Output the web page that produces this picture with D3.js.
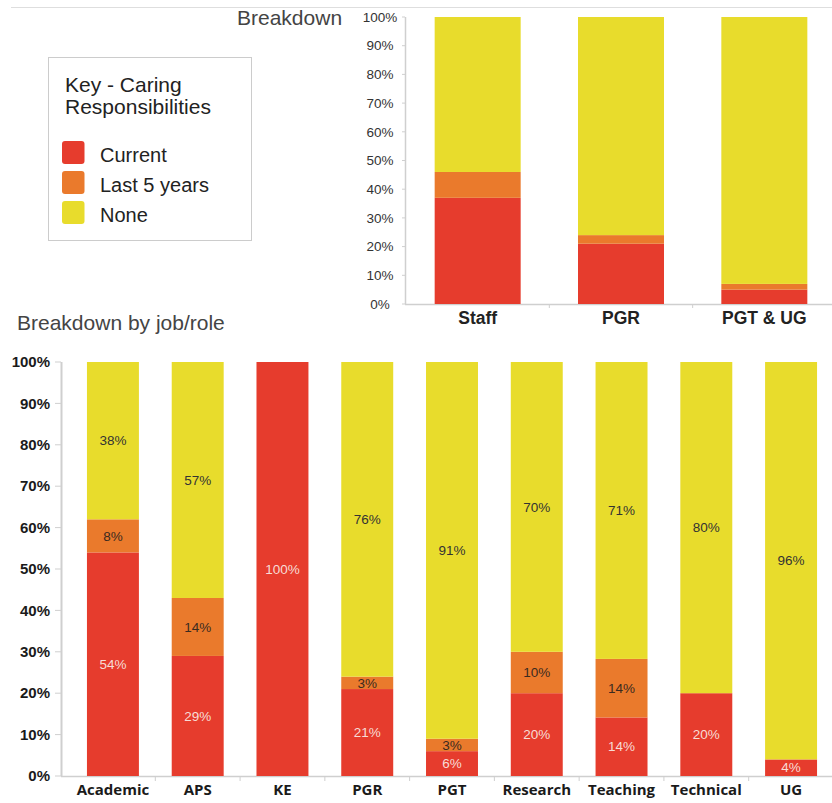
<!DOCTYPE html>
<html>
<head>
<meta charset="utf-8">
<script src="https://cdn.jsdelivr.net/npm/d3@7"></script>
<style>
  html, body { margin: 0; padding: 0; background: #fff; }
  svg { display: block; }
</style>
</head>
<body>
<svg id="chart" width="832" height="803"></svg>
<script>
// Series (stack order, bottom to top)
const seriesKeys = ["current", "last5", "none"];
const seriesNames = ["Current", "Last 5 years", "None"];
const seriesColors = ["#e63c2d", "#ea7a2c", "#e8dc2c"];

// Overall breakdown
const overviewGroups = ["Staff", "PGR", "PGT & UG"];
const overviewCurrent = [37, 21, 5];
const overviewLast5 = [9, 3, 2];
const overviewNone = [54, 76, 93];

// Breakdown by job/role
const roles = ["Academic", "APS", "KE", "PGR", "PGT", "Research", "Teaching", "Technical", "UG"];
const roleCurrent = [54, 29, 100, 21, 6, 20, 14, 20, 4];
const roleLast5 = [8, 14, 0, 3, 3, 10, 14, 0, 0];
const roleNone = [38, 57, 0, 76, 91, 70, 71, 80, 96];

// Y tick labels (percent)
const yTicks = [0, 10, 20, 30, 40, 50, 60, 70, 80, 90, 100];

const svg = d3.select("#chart");
const AX = "#cfcfcf";

function buildRows(groups, cur, last5, none) {
  return groups.map((g, i) => ({ group: g, current: cur[i], last5: last5[i], none: none[i] }));
}
const stacker = d3.stack().keys(seriesKeys).offset(d3.stackOffsetExpand);

// Separator rule across the top
svg.append("line")
  .attr("x1", 11).attr("x2", 832).attr("y1", 7.5).attr("y2", 7.5)
  .attr("stroke", "#dedede").attr("stroke-width", 1);

// ---------- Overview chart ----------
(function () {
  const rows = buildRows(overviewGroups, overviewCurrent, overviewLast5, overviewNone);
  const stacked = stacker(rows);
  const x = d3.scaleBand().domain(overviewGroups).range([406, 836]).paddingInner(0.4).paddingOuter(0.2);
  const y = d3.scaleLinear().domain([0, 1]).range([304, 17]);
  const g = svg.append("g");

  g.append("text").attr("x", 237).attr("y", 25)
    .attr("font-family", "Liberation Sans, Arial, sans-serif").attr("font-size", 21)
    .attr("fill", "#444").text("Breakdown");

  // axes lines
  g.append("line").attr("x1", 405.5).attr("x2", 405.5).attr("y1", 17).attr("y2", 304)
    .attr("stroke", AX).attr("stroke-width", 1.5);
  g.append("line").attr("x1", 405).attr("x2", 832).attr("y1", 304.5).attr("y2", 304.5)
    .attr("stroke", AX).attr("stroke-width", 1.5);

  const yt = g.selectAll(".yt").data(yTicks).join("g").attr("transform", d => `translate(0,${y(d / 100)})`);
  yt.append("line").attr("x1", 402).attr("x2", 405).attr("stroke", AX);
  yt.append("text").attr("x", 380).attr("dy", "0.35em").attr("text-anchor", "middle")
    .attr("font-family", "Liberation Sans, Arial, sans-serif").attr("font-size", 13.5)
    .attr("fill", "#333").text(d => d + "%");

  // category separators
  const step = x.step();
  g.selectAll(".sep").data(overviewGroups.slice(1)).join("line")
    .attr("x1", d => x(d) - step * x.paddingInner() / 2).attr("x2", d => x(d) - step * x.paddingInner() / 2)
    .attr("y1", 304).attr("y2", 308).attr("stroke", AX);

  stacked.forEach((s, si) => {
    g.append("g").selectAll("rect").data(s).join("rect")
      .attr("x", d => x(d.data.group)).attr("width", x.bandwidth())
      .attr("y", d => y(d[1])).attr("height", d => y(d[0]) - y(d[1]))
      .attr("fill", seriesColors[si]);
  });

  g.selectAll(".xl").data(overviewGroups).join("text")
    .attr("x", d => x(d) + x.bandwidth() / 2).attr("y", 324).attr("text-anchor", "middle")
    .attr("font-family", "Liberation Sans, Arial, sans-serif").attr("font-weight", "bold")
    .attr("font-size", 17.5).attr("fill", "#222").text(d => d);
})();

// ---------- Legend ----------
(function () {
  const g = svg.append("g");
  g.append("rect").attr("x", 48.5).attr("y", 57.5).attr("width", 203).attr("height", 183)
    .attr("fill", "#fff").attr("stroke", "#cccccc");
  const font = "Liberation Sans, Arial, sans-serif";
  g.append("text").attr("x", 65).attr("y", 92).attr("font-family", font).attr("font-size", 21)
    .attr("fill", "#222").text("Key - Caring");
  g.append("text").attr("x", 65).attr("y", 114).attr("font-family", font).attr("font-size", 21)
    .attr("fill", "#222").text("Responsibilities");
  const items = g.selectAll(".li").data(seriesNames).join("g")
    .attr("transform", (d, i) => `translate(0,${141 + i * 30})`);
  items.append("rect").attr("x", 62).attr("y", 0).attr("width", 22.5).attr("height", 23)
    .attr("rx", 3).attr("fill", (d, i) => seriesColors[i]);
  items.append("text").attr("x", 100).attr("y", 20.5).attr("font-family", font).attr("font-size", 20)
    .attr("fill", "#222").text(d => d);
})();

// ---------- Breakdown by job/role ----------
(function () {
  const rows = buildRows(roles, roleCurrent, roleLast5, roleNone);
  const stacked = stacker(rows);
  const x = d3.scaleBand().domain(roles).range([70, 834]).paddingInner(0.387).paddingOuter(0.2);
  const y = d3.scaleLinear().domain([0, 1]).range([776, 362]);
  const g = svg.append("g");

  g.append("text").attr("x", 17).attr("y", 330)
    .attr("font-family", "Liberation Sans, Arial, sans-serif").attr("font-size", 21)
    .attr("fill", "#444").text("Breakdown by job/role");

  g.append("line").attr("x1", 61.5).attr("x2", 61.5).attr("y1", 362).attr("y2", 776)
    .attr("stroke", AX).attr("stroke-width", 2);
  g.append("line").attr("x1", 61).attr("x2", 832).attr("y1", 776.5).attr("y2", 776.5)
    .attr("stroke", AX).attr("stroke-width", 1.5);

  const yt = g.selectAll(".yt").data(yTicks).join("g").attr("transform", d => `translate(0,${y(d / 100)})`);
  yt.append("line").attr("x1", 55).attr("x2", 61).attr("stroke", AX);
  yt.append("text").attr("x", 50).attr("dy", "0.35em").attr("text-anchor", "end")
    .attr("font-family", "Liberation Sans, Arial, sans-serif").attr("font-weight", "bold")
    .attr("font-size", 15).attr("fill", "#1a1a1a").text(d => d + "%");

  const step = x.step();
  g.selectAll(".sep").data(roles.slice(1)).join("line")
    .attr("x1", d => x(d) - step * x.paddingInner() / 2).attr("x2", d => x(d) - step * x.paddingInner() / 2)
    .attr("y1", 776).attr("y2", 781).attr("stroke", AX);

  const labelColors = ["#f7dcd6", "#3a2a20", "#333333"];
  stacked.forEach((s, si) => {
    const sg = g.append("g");
    sg.selectAll("rect").data(s).join("rect")
      .attr("x", d => x(d.data.group)).attr("width", x.bandwidth())
      .attr("y", d => y(d[1])).attr("height", d => y(d[0]) - y(d[1]))
      .attr("fill", seriesColors[si]);
    sg.selectAll("text").data(s.filter(d => d.data[seriesKeys[si]] > 0)).join("text")
      .attr("x", d => x(d.data.group) + x.bandwidth() / 2)
      .attr("y", d => (y(d[0]) + y(d[1])) / 2)
      .attr("dy", "0.35em").attr("text-anchor", "middle")
      .attr("font-family", "Liberation Sans, Arial, sans-serif").attr("font-size", 13.5)
      .attr("fill", labelColors[si])
      .text(d => d.data[seriesKeys[si]] + "%");
  });

  g.selectAll(".xl").data(roles).join("text")
    .attr("x", d => x(d) + x.bandwidth() / 2).attr("y", 795).attr("text-anchor", "middle")
    .attr("font-family", "Open Sans, Noto Sans, sans-serif").attr("font-weight", "bold")
    .attr("font-size", 15).attr("fill", "#1a1a1a").text(d => d);
})();
</script>
</body>
</html>
